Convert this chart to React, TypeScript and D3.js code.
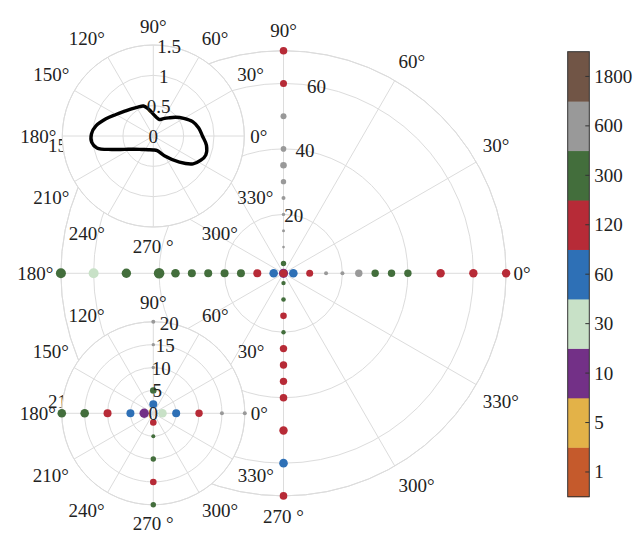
import React from "react";
import * as d3 from "d3";

// ---- colour levels (colorbar) ----
const levelLabels = ["1", "5", "10", "30", "60", "120", "300", "600", "1800"];
const levelColors = ["#c55a2c", "#e3b248", "#733087", "#c8e1c7", "#2e70b6", "#b72b37", "#436e3c", "#999999", "#715546"];

// ---- big polar plot ----
const bigAngles = [0, 90, 180, 270];
const bigValues = [5, 10, 15, 20, 25, 30, 35, 40, 50, 60, 70];
const bigLevel0 = ["60", "120", "600", "600", "600", "300", "300", "300", "120", "120", "120"];
const bigLevel90 = ["300", "600", "600", "600", "600", "600", "600", "600", "600", "120", "120"];
const bigLevel180 = ["60", "120", "300", "300", "300", "300", "300", "300", "300", "30", "300"];
const bigLevel270 = ["300", "300", "120", "300", "120", "120", "120", "120", "120", "60", "120"];
const bigMag0 = [4.3, 3.5, 2, 2, 3.7, 3.7, 3.7, 3.7, 4.2, 4.2, 4.2];
const bigMag90 = [2.7, 1.3, 1.5, 1.7, 2, 2.7, 3.3, 2.8, 3, 3.5, 3.8];
const bigMag180 = [4.3, 4, 4, 4, 4, 4, 4.3, 5.3, 4.7, 5, 5];
const bigMag270 = [2.2, 2.3, 3.3, 2.2, 3.7, 3.7, 3.7, 3.8, 4.2, 4.3, 3.8];
const bigCenterLevels = ["10", "120"];
const bigCenterMag = [4.6, 3.9];
const bigCenterValue = 2;
const bigRTicks = [20, 40, 60];
const bigRMax = 70;
const bigRMin = 2;
// angular labels of the big plot that are entirely covered by the inset plots
const bigHiddenThetaLabels = [120, 240];

// ---- top-left polar curve ----
const curveTheta = [0, 10, 20, 30, 40, 50, 60, 70, 80, 90, 100, 108, 118, 130, 140, 150, 160, 170, 178, 186, 192, 198, 205, 215, 230, 250, 270, 285, 300, 315, 325, 333, 340, 350];
const curveR = [0.81, 0.76, 0.69, 0.58, 0.48, 0.39, 0.33, 0.29, 0.31, 0.36, 0.45, 0.52, 0.54, 0.58, 0.63, 0.71, 0.83, 0.96, 1.02, 1.02, 0.95, 0.72, 0.52, 0.38, 0.29, 0.24, 0.23, 0.25, 0.38, 0.61, 0.8, 0.88, 0.92, 0.89];
const tlRTicks = [0, 0.5, 1, 1.5];

// ---- bottom-left polar dots ----
const blAngles = [0, 90, 180, 270];
const blValues = [2, 5, 10, 15, 20];
const blLevel0 = ["30", "60", "120", "600", "600"];
const blLevel90 = ["60", "300", "600", "600", "600"];
const blLevel180 = ["10", "60", "120", "300", "300"];
const blLevel270 = ["120", "300", "300", "120", "300"];
const blMag0 = [4.3, 4, 3.7, 2, 2];
const blMag90 = [4, 3.3, 1.7, 1.7, 2];
const blMag180 = [4.7, 4, 4, 4.3, 4.3];
const blMag270 = [3.3, 2, 2.7, 3.3, 2.7];
const blRTicks = [0, 5, 10, 15, 20];

const thetaTicks = d3.range(0, 360, 30);

const FONT = "'Liberation Serif', 'DejaVu Serif', serif";
const FS = 19;
const GRID = "#dcdcdc";

const colorOf = d3.scaleOrdinal<string, string>().domain(levelLabels).range(levelColors);

function thetaLabel(a: number) {
  return a === 270 ? "270 °" : `${a}°`;
}
function textW(s: string) {
  let w = 0;
  for (const c of s) w += c === "°" ? 0.4 * FS : c === " " ? 0.25 * FS : c === "." ? 0.25 * FS : 0.5 * FS;
  return w;
}

type PolarProps = {
  cx: number;
  cy: number;
  r: d3.ScaleLinear<number, number>;
  ringTicks: number[];
  labelTicks: number[];
  labelPad: number;
  hiddenTheta?: number[];
  fill?: boolean;
  children?: React.ReactNode;
};

function pt(cx: number, cy: number, rad: number, deg: number): [number, number] {
  const t = (deg * Math.PI) / 180;
  return [cx + rad * Math.cos(t), cy - rad * Math.sin(t)];
}

function PolarFrame({ cx, cy, r, ringTicks, labelTicks, labelPad, hiddenTheta = [], fill, children }: PolarProps) {
  const R = r.range()[1];
  return (
    <g>
      {fill && <circle cx={cx} cy={cy} r={R} fill="#fff" />}
      {ringTicks.filter((v) => r(v) > 0.5).map((v) => (
        <circle key={"ring" + v} cx={cx} cy={cy} r={r(v)} fill="none" stroke={GRID} strokeWidth={1} />
      ))}
      <circle cx={cx} cy={cy} r={R} fill="none" stroke={GRID} strokeWidth={1} />
      {thetaTicks.map((a) => {
        const [x, y] = pt(cx, cy, R, a);
        return <line key={"sp" + a} x1={cx} y1={cy} x2={x} y2={y} stroke={GRID} strokeWidth={1} />;
      })}
      {thetaTicks.filter((a) => !hiddenTheta.includes(a)).map((a) => {
        const s = thetaLabel(a);
        const t = (a * Math.PI) / 180;
        const ux = Math.cos(t), uy = Math.sin(t);
        const R0 = R + labelPad;
        const hx = Math.abs(ux) < 0.01 ? 0 : Math.sign(ux) * (textW(s) / 2);
        const hy = Math.abs(uy) < 0.01 ? 0 : Math.sign(uy) * 13;
        const x = cx + R0 * ux + hx;
        const y = cy - (R0 * uy + hy);
        return (
          <text key={"tl" + a} x={x} y={y} textAnchor="middle" dominantBaseline="central" fontFamily={FONT} fontSize={FS} fill="#222">
            {s}
          </text>
        );
      })}
      {children}
      {labelTicks.map((v) => {
        const [x, y] = pt(cx, cy, r(v), 80);
        return (
          <text key={"rl" + v} x={x} y={y} textAnchor="middle" dominantBaseline="central" fontFamily={FONT} fontSize={FS} fill="#222">
            {String(v)}
          </text>
        );
      })}
    </g>
  );
}

function Dots({ cx, cy, r, angle, values, levels, mags }: { cx: number; cy: number; r: d3.ScaleLinear<number, number>; angle: number; values: number[]; levels: string[]; mags: number[] }) {
  return (
    <g>
      {values.map((v, i) => {
        const [x, y] = pt(cx, cy, r(v), angle);
        return <circle key={i} cx={x} cy={y} r={mags[i]} fill={colorOf(levels[i])} />;
      })}
    </g>
  );
}

export default function App() {
  // big
  const bcx = 283.5, bcy = 273.3;
  const bigR = d3.scaleLinear().domain([bigRMin, bigRMax]).range([0, 222.6]);
  const bigLevels = [bigLevel0, bigLevel90, bigLevel180, bigLevel270];
  const bigMags = [bigMag0, bigMag90, bigMag180, bigMag270];

  // top-left
  const tcx = 153.3, tcy = 136;
  const tlR = d3.scaleLinear().domain([0, 1.5]).range([0, 91]);
  const line = d3
    .lineRadial<number>()
    .angle((_, i) => ((90 - curveTheta[i]) * Math.PI) / 180)
    .radius((_, i) => tlR(curveR[i]))
    .curve(d3.curveCatmullRomClosed.alpha(0.5));
  const path = line(curveR) || "";

  // bottom-left
  const ucx = 153.3, ucy = 413.3;
  const blR = d3.scaleLinear().domain([0, 20]).range([0, 91.5]);
  const blLevels = [blLevel0, blLevel90, blLevel180, blLevel270];
  const blMags = [blMag0, blMag90, blMag180, blMag270];

  // colorbar
  const cbX = 567.7, cbW = 21.6;
  const cbY = d3.scaleBand<string>().domain([...levelLabels].reverse()).range([51.7, 496.7]).paddingInner(0);

  return (
    <svg width={640} height={540} style={{ position: "absolute", left: 0, top: 0, background: "#fff" }}>
      <rect x={0} y={0} width={640} height={540} fill="#fff" />
      {/* big polar */}
      <PolarFrame cx={bcx} cy={bcy} r={bigR} ringTicks={[...bigRTicks, bigRMax]} labelTicks={bigRTicks} labelPad={7.5} hiddenTheta={bigHiddenThetaLabels}>
        {bigAngles.map((a, k) => (
          <Dots key={a} cx={bcx} cy={bcy} r={bigR} angle={a} values={bigValues} levels={bigLevels[k]} mags={bigMags[k]} />
        ))}
        {bigCenterLevels.map((l, i) => (
          <circle key={"c" + i} cx={bcx} cy={bcy - bigR(bigCenterValue)} r={bigCenterMag[i]} fill={colorOf(l)} />
        ))}
      </PolarFrame>

      {/* top-left polar */}
      <PolarFrame cx={tcx} cy={tcy} r={tlR} ringTicks={tlRTicks} labelTicks={tlRTicks} labelPad={6} fill>
        <path d={path} transform={`translate(${tcx},${tcy})`} fill="none" stroke="#000" strokeWidth={3.4} strokeLinejoin="round" />
      </PolarFrame>

      {/* bottom-left polar */}
      <PolarFrame cx={ucx} cy={ucy} r={blR} ringTicks={blRTicks} labelTicks={blRTicks} labelPad={6} fill>
        {blAngles.map((a, k) => (
          <Dots key={a} cx={ucx} cy={ucy} r={blR} angle={a} values={blValues} levels={blLevels[k]} mags={blMags[k]} />
        ))}
      </PolarFrame>

      {/* colorbar */}
      <g>
        {levelLabels.map((l) => (
          <rect key={l} x={cbX} y={cbY(l)!} width={cbW} height={cbY.bandwidth() + 0.5} fill={colorOf(l)} />
        ))}
        <rect x={cbX} y={51.7} width={cbW} height={445} fill="none" stroke="#333" strokeWidth={1} />
        {levelLabels.map((l) => {
          const y = cbY(l)! + cbY.bandwidth() / 2;
          return (
            <g key={"t" + l}>
              <line x1={cbX + cbW - 4} x2={cbX + cbW} y1={y} y2={y} stroke="#333" strokeWidth={1} />
              <text x={cbX + cbW + 5} y={y} dominantBaseline="central" fontFamily={FONT} fontSize={FS} fill="#222">
                {l}
              </text>
            </g>
          );
        })}
      </g>
    </svg>
  );
}
